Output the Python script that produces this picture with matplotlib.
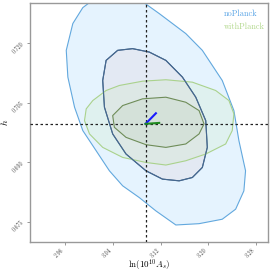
import matplotlib
matplotlib.use("Agg")
import matplotlib.pyplot as plt
import numpy as np
from matplotlib.patches import Polygon

plt.rcParams['mathtext.fontset'] = 'cm'
plt.rcParams['font.family'] = ['cmr10', 'DejaVu Serif']
plt.rcParams['axes.formatter.use_mathtext'] = True

# fiducial values
x_fid = 3.095
y_fid = 0.6997

# noPlanck contours (ln10^10As, h)
np_outer_x = [3.012, 3.035, 3.06, 3.09, 3.1178, 3.1623, 3.19, 3.2233, 3.2428, 3.2512, 3.2623, 3.2595,
              3.2457, 3.2233, 3.1845, 3.1457, 3.1123, 3.0845, 3.0567, 3.0345, 3.0123, 2.99, 2.9762,
              2.965, 2.9623, 2.9733, 2.990]
np_outer_y = [0.7315, 0.7330, 0.7330, 0.7305, 0.72751, 0.72246, 0.71823, 0.71064, 0.70305, 0.69546,
              0.68787, 0.68281, 0.67819, 0.67566, 0.67454, 0.67421, 0.67776, 0.68112, 0.68408,
              0.68787, 0.69293, 0.6980, 0.70389, 0.71148, 0.71823, 0.72499, 0.7290]
np_inner_x = [3.0483, 3.029, 3.0233, 3.0262, 3.04, 3.0623, 3.0957, 3.1233, 3.1512, 3.1733, 3.19,
              3.1983, 3.1957, 3.179, 3.1567, 3.129, 3.1012, 3.0733]
np_inner_y = [0.71823, 0.7157, 0.71064, 0.70389, 0.69716, 0.6921, 0.68787, 0.68577, 0.68534, 0.68618,
              0.68871, 0.69377, 0.70052, 0.70642, 0.71148, 0.7157, 0.7178, 0.71866]

# withPlanck contours
wp_outer_x = [2.9957, 2.9928, 3.0012, 3.0233, 3.0567, 3.0957, 3.129, 3.1623, 3.1957, 3.229, 3.24,
              3.2428, 3.2345, 3.2123, 3.1733, 3.129, 3.09, 3.0512, 3.029, 3.0067]
wp_outer_y = [0.70348, 0.70052, 0.69716, 0.69377, 0.69124, 0.68997, 0.68932, 0.6904, 0.6921, 0.69463,
              0.698, 0.70222, 0.70558, 0.70811, 0.71021, 0.71082, 0.71046, 0.70938, 0.70811, 0.70558]
wp_inner_x = [3.04, 3.0428, 3.0623, 3.0957, 3.129, 3.1623, 3.1845, 3.1928, 3.1845, 3.1623, 3.129,
              3.09, 3.0567]
wp_inner_y = [0.70179, 0.69883, 0.6963, 0.69445, 0.69377, 0.69463, 0.69716, 0.69969, 0.70305, 0.70515,
              0.70642, 0.70601, 0.70432]

# small direction segments from fiducial point
seg_blue = ([3.095, 3.1123], [0.6997, 0.70237])
seg_green = ([3.095, 3.1178], [0.6997, 0.69994])

xticks = [2.96, 3.04, 3.12, 3.20, 3.28]
yticks = [0.675, 0.690, 0.705, 0.720]
labels = ['noPlanck', 'withPlanck']
label_colors = ['#5aa5e6', '#b2d88c']

fig = plt.figure(figsize=(2.73, 2.72), dpi=100)
ax = fig.add_axes([0.11, 0.110, 0.872, 0.878])

def poly(xs, ys, fc, ec, lw=0.8, z=1):
    p = Polygon(np.column_stack([xs, ys]), closed=True, facecolor=fc, edgecolor=ec, lw=lw, zorder=z)
    ax.add_patch(p)

poly(np_outer_x, np_outer_y, '#e5f3fe', '#62a8de', z=1)
poly(np_inner_x, np_inner_y, '#e3e9f3', '#46688f', z=2)
poly(wp_outer_x, wp_outer_y, (0.72, 0.90, 0.55, 0.13), '#aad28c', z=3)
poly(wp_inner_x, wp_inner_y, (0.55, 0.65, 0.45, 0.10), '#6e8c58', z=4)
# redraw blue inner edge above green fill
ax.add_patch(Polygon(np.column_stack([np_inner_x, np_inner_y]), closed=True, fill=False,
                     edgecolor='#46688f', lw=0.8, zorder=5))

ax.axvline(x_fid, color='#222222', ls=(0, (2, 2)), lw=0.9, zorder=6)
ax.axhline(y_fid, color='#222222', ls=(0, (2, 2)), lw=0.9, zorder=6)
ax.plot(*seg_blue, color='#1a1aff', lw=1.5, zorder=7)
ax.plot(*seg_green, color='#1f8a1f', lw=1.5, zorder=7)

ax.set_xlim(2.9017, 3.300)
ax.set_ylim(0.6699, 0.7301)
ax.set_xticks(xticks)
ax.set_yticks(yticks)
ax.set_xticklabels([f'{v:.2f}' for v in xticks], rotation=45, ha='right', fontsize=4.3, color='#444444')
ax.set_yticklabels([f'{v:.3f}' for v in yticks], rotation=45, ha='right', fontsize=4.3, color='#444444')
ax.tick_params(length=2, width=0.6, color='#888888', pad=1.5)
for s in ax.spines.values():
    s.set_color('#999999')
    s.set_linewidth(1.0)

ax.set_xlabel(r'$\ln(10^{10}A_s)$', fontsize=6.5)
ax.set_ylabel(r'$h$', fontsize=7)
ax.xaxis.set_label_coords(0.5, -0.066)
ax.yaxis.set_label_coords(-0.085, 0.5)

for i, (lab, c) in enumerate(zip(labels, label_colors)):
    ax.text(0.815, 0.955 - i * 0.055, lab, color=c, fontsize=6, transform=ax.transAxes,
            ha='left', va='center')

fig.savefig('out.png', dpi=100)
